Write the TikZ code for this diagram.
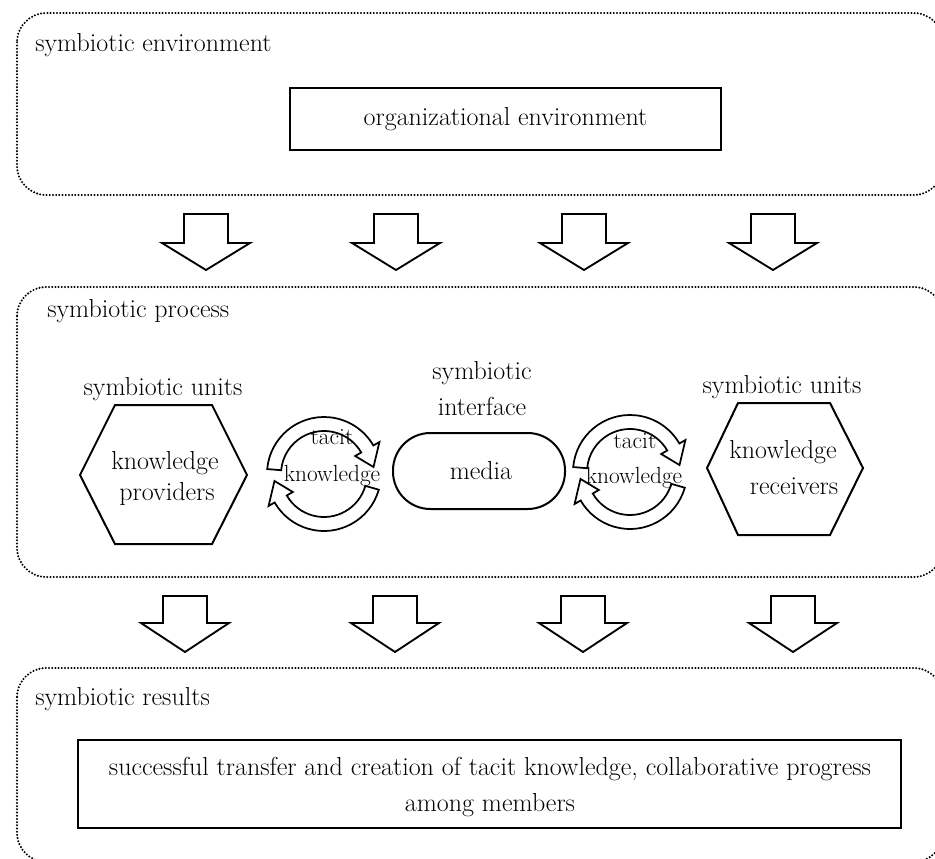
\documentclass[tikz,border=0pt]{standalone}
\begin{document}
\begin{tikzpicture}[x=0.75pt,y=-0.75pt,
  dotbox/.style={line width=1.7pt, dash pattern=on 0pt off 2.4pt, line cap=round, rounded corners=22pt},
  solidbox/.style={draw, line width=1.5pt, inner sep=0pt},
  lbl/.style={font=\fontsize{19.5}{24}\selectfont, inner sep=0pt, anchor=base},
  lblw/.style={lbl, anchor=base west},
  smalllbl/.style={font=\fontsize{17.5}{21}\selectfont, inner sep=0pt, anchor=base},
  blockarrow/.style={draw, line width=1.4pt, fill=white, line join=miter},
  circarrow/.style={draw, line width=1.3pt, fill=white, line join=miter},
  hexline/.style={draw, line width=1.5pt, line join=miter}]
\newcommand\blkdown[4]{%
  \draw[blockarrow] (#1-22,#2) -- (#1+22,#2) -- (#1+22,#3) -- (#1+44,#3) -- (#1,#4) -- (#1-44,#3) -- (#1-22,#3) -- cycle;}
\newcommand\circarr[4]{%
  \begin{scope}[shift={#1}]
  \draw[circarrow] (#2:57) arc[start angle=#2, end angle=#3, radius=57] -- (#3:64) -- (#4:50) -- (#3:36) -- (#3:43) arc[start angle=#3, end angle=#2, radius=43] -- cycle;
  \end{scope}}
\path[use as bounding box, clip] (0,0) rectangle (935,859);

% dotted containers
\draw[dotbox] (17,13) rectangle (943,195);
\draw[dotbox] (17,287) rectangle (943,577);
\draw[dotbox] (17,668) rectangle (943,862);

% section labels
\node[lblw] (envlbl) at (35,52) {symbiotic environment};
\node[lblw] (proclbl) at (47,317) {symbiotic process};
\node[lblw] (reslbl) at (35,705) {symbiotic results};

% organizational environment
\node[solidbox, minimum width=323.25pt, minimum height=46.5pt, font=\fontsize{19.5}{24}\selectfont] (org) at (505.5,119) {organizational environment};

% block arrows row 1
\blkdown{206}{214}{243}{270}
\blkdown{396}{214}{243}{270}
\blkdown{584}{214}{243}{270}
\blkdown{773}{214}{243}{270}

% left hexagon
\draw[hexline] (80,475) -- (115,405) -- (212,405) -- (247,475) -- (212,544) -- (115,544) -- cycle;
\node[lbl] (unitsL) at (163,395) {symbiotic units};
\node[lbl] (provA) at (165,469) {knowledge};
\node[lbl] (provB) at (167,500) {providers};

% right hexagon
\draw[hexline] (707,468) -- (738,403) -- (830,403) -- (863,468) -- (830,535) -- (738,535) -- cycle;
\node[lbl] (unitsR) at (782,393) {symbiotic units};
\node[lbl] (recA) at (783,458) {knowledge};
\node[lbl] (recB) at (794,494) {receivers};

% media
\node[draw, line width=1.5pt, rounded corners=28pt, minimum width=129pt, minimum height=57pt, inner sep=0pt] (media) at (479,471) {};
\node[lbl] (mediat) at (481,479) {media};
\node[lbl] (ifA) at (482,379) {symbiotic};
\node[lbl] (ifB) at (482,415) {interface};

% circular arrows
\circarr{(324,474)}{185}{330}{352}
\circarr{(324,474)}{16}{150}{172}
\circarr{(630,472)}{185}{330}{352}
\circarr{(630,472)}{16}{150}{172}
\node[smalllbl] (tacitL) at (332,444) {tacit};
\node[smalllbl] (knowL) at (332,481) {knowledge};
\node[smalllbl] (tacitR) at (635,448) {tacit};
\node[smalllbl] (knowR) at (634,483) {knowledge};

% block arrows row 2
\blkdown{185}{596}{623}{652}
\blkdown{395}{596}{623}{652}
\blkdown{583}{596}{623}{652}
\blkdown{793}{596}{623}{652}

% results
\node[solidbox, minimum width=617.25pt, minimum height=66pt] (res) at (489.5,784) {};
\node[lbl] (resA) at (490,775) {successful transfer and creation of tacit knowledge, collaborative progress};
\node[lbl] (resB) at (490,811) {among members};
\end{tikzpicture}
\end{document}
